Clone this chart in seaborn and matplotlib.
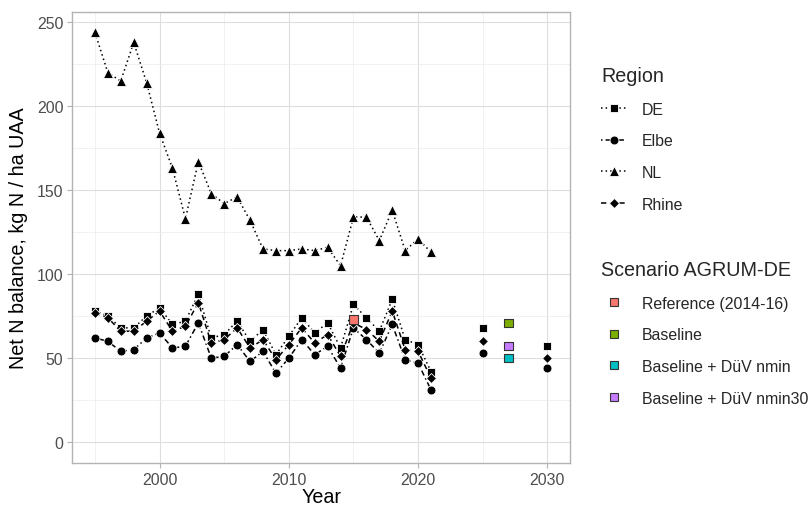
import matplotlib
matplotlib.use("Agg")
import matplotlib.pyplot as plt
from matplotlib.lines import Line2D
from matplotlib.ticker import MultipleLocator
import pandas as pd
import seaborn as sns

# Observed net N balance (kg N / ha UAA), 1995-2021
years_hist = list(range(1995, 2022))
de_hist = [78, 75, 68, 68, 75, 80, 70, 72, 88, 62, 64, 72, 60, 67, 52,
           63, 74, 65, 71, 56, 82, 74, 66, 85, 61, 58, 42]
elbe_hist = [62, 60, 54, 55, 62, 65, 56, 57, 71, 50, 51, 58, 48, 54, 41,
             50, 61, 52, 57, 44, 68, 61, 53, 70, 49, 47, 31]
nl_hist = [244, 220, 215, 238, 214, 184, 163, 133, 167, 148, 142, 146, 132, 115, 114,
           114, 115, 114, 116, 105, 134, 134, 120, 138, 114, 121, 113]
rhine_hist = [77, 74, 66, 66, 72, 78, 66, 69, 83, 59, 61, 68, 56, 61, 49,
              58, 68, 59, 64, 51, 71, 67, 60, 78, 55, 54, 38]

# Projected values
years_proj = [2025, 2030]
de_proj = [68, 57]
elbe_proj = [53, 44]
rhine_proj = [60, 50]

# AGRUM-DE scenario results
scenario_names = ["Reference (2014-16)", "Baseline", "Baseline + DüV nmin", "Baseline + DüV nmin30"]
scenario_years = [2015, 2027, 2027, 2027]
scenario_values = [73, 71, 50, 57]
scenario_colors = ["#F8766D", "#7CAE00", "#00BFC4", "#C77CFF"]

regions = ["DE", "Elbe", "NL", "Rhine"]
hist = {"DE": de_hist, "Elbe": elbe_hist, "NL": nl_hist, "Rhine": rhine_hist}
proj = {"DE": de_proj, "Elbe": elbe_proj, "Rhine": rhine_proj}

lw = 1.1
styles = {
    "DE": dict(marker="s", ms=5.6, ls=(0, (1, 2))),
    "Elbe": dict(marker="o", ms=6.4, ls=(0, (1, 2, 3.5, 2))),
    "NL": dict(marker="^", ms=7.4, ls=(0, (1, 2))),
    "Rhine": dict(marker="D", ms=5.0, ls=(0, (3.5, 2.5))),
}

sns.set_theme(style="white")
plt.rcParams["font.family"] = ["Liberation Sans", "DejaVu Sans"]

W, H = 810, 506
fig = plt.figure(figsize=(W / 100, H / 100), dpi=100)
ax = fig.add_axes([72.3 / W, (H - 463.5) / H, (570 - 72.3) / W, (463.5 - 12.9) / H])

for r in regions:
    st = styles[r]
    df = pd.DataFrame({"Year": years_hist, "N": hist[r]})
    sns.lineplot(data=df, x="Year", y="N", ax=ax, color="black", linewidth=lw,
                 linestyle=st["ls"], marker=st["marker"], markersize=st["ms"],
                 markeredgecolor="white", markeredgewidth=0.6, zorder=3)
    if r in proj:
        dp = pd.DataFrame({"Year": years_proj, "N": proj[r]})
        sns.scatterplot(data=dp, x="Year", y="N", ax=ax, color="black",
                        marker=st["marker"], s=st["ms"] ** 2,
                        edgecolor="white", linewidth=0.6, zorder=3, legend=False)

sc = pd.DataFrame({"Year": scenario_years, "N": scenario_values, "Scenario": scenario_names})
sns.scatterplot(data=sc, x="Year", y="N", hue="Scenario", hue_order=scenario_names,
                palette=scenario_colors, marker="s", s=36, edgecolor="#333333",
                linewidth=0.8, ax=ax, zorder=4, legend=False)

# axis ranges with a 5% margin; y includes zero
x_lo, x_hi = min(years_hist), max(years_proj)
xr = x_hi - x_lo
ymax = max(nl_hist)
ax.set_xlim(x_lo - 0.05 * xr, x_hi + 0.05 * xr)
ax.set_ylim(-0.05 * ymax, ymax * 1.05)

ax.xaxis.set_major_locator(MultipleLocator(10))
ax.xaxis.set_minor_locator(MultipleLocator(5))
ax.yaxis.set_major_locator(MultipleLocator(50))
ax.yaxis.set_minor_locator(MultipleLocator(25))
ax.grid(which="major", color="#DEDEDE", linewidth=0.8)
ax.grid(which="minor", color="#EBEBEB", linewidth=0.5)
ax.set_axisbelow(True)
for s in ax.spines.values():
    s.set_color("#B3B3B3")
    s.set_linewidth(1.0)
ax.tick_params(axis="both", which="major", length=3.6, width=0.8, color="#B3B3B3",
               labelsize=11.4, labelcolor="#4D4D4D", pad=2.9, left=True, bottom=True)
ax.tick_params(axis="both", which="minor", length=0)

ax.set_xlabel("Year", fontsize=14.2, color="black", labelpad=0)
ax.set_ylabel("Net N balance, kg N / ha UAA", fontsize=14.2, color="black", labelpad=6)

# legends
region_handles = [
    Line2D([0], [0], color="black", linewidth=lw, linestyle=styles[r]["ls"],
           marker=styles[r]["marker"], markersize=styles[r]["ms"],
           markeredgecolor="white", markeredgewidth=0.6)
    for r in regions
]
leg_kw = dict(loc="upper left", frameon=False, fontsize=11.4, title_fontsize=14.2,
              alignment="left", handlelength=1.6, handletextpad=1.0,
              labelspacing=1.05, borderpad=0, borderaxespad=0)
leg1 = fig.legend(region_handles, regions, title="Region",
                  bbox_to_anchor=(601 / W, 1 - 67 / H), **leg_kw)
leg1._legend_box.sep = 12

scen_handles = [
    Line2D([0], [0], linestyle="none", marker="s", markersize=6.0,
           markerfacecolor=c, markeredgecolor="#333333", markeredgewidth=0.8)
    for c in scenario_colors
]
leg2 = fig.legend(scen_handles, scenario_names, title="Scenario AGRUM-DE",
                  bbox_to_anchor=(601 / W, 1 - 261 / H), **leg_kw)
leg2._legend_box.sep = 12

fig.savefig("out.png", dpi=100)
